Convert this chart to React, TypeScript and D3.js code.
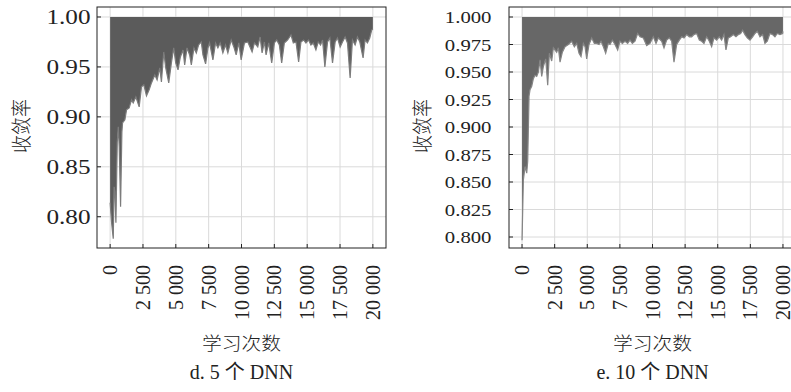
import React, { useEffect, useRef } from 'react';
import * as d3 from 'd3';

// x axis: learning iterations, shared by both panels
const xTicks = [0, 2500, 5000, 7500, 10000, 12500, 15000, 17500, 20000];
const xTitle = '学习次数';
const yTitle = '收敛率';

// d. 5 DNN  - lower edge of the dense curve (upper edge sits at 1.0)
const itersD = [0, 111, 237, 300, 364, 440, 541, 620, 693, 794, 895, 946, 1123, 1249, 1451, 1629, 1755, 1957, 2210, 2387,
  2564, 2766, 2969, 3146, 3399, 3576, 3778, 3904, 4081, 4233, 4461, 4663, 4840, 4992, 5168, 5346, 5548, 5674, 5851, 6054,
  6180, 6382, 6560, 6736, 6939, 7065, 7267, 7444, 7571, 7824, 8026, 8203, 8380, 8582, 8785, 8962, 9215, 9417, 9594, 9796,
  9973, 10226, 10479, 10808, 10985, 11238, 11415, 11567, 11744, 11870, 12073, 12300, 12503, 12680, 12882, 13059, 13262,
  13515, 13768, 13945, 14147, 14349, 14526, 14729, 14906, 15108, 15285, 15462, 15665, 15842, 16019, 16170, 16347, 16550,
  16727, 16929, 17131, 17308, 17511, 17688, 17890, 18067, 18270, 18447, 18649, 18826, 19003, 19256, 19408, 19585, 19762,
  19914, 20000];
const lowD = [0.814, 0.794, 0.778, 0.83, 0.825, 0.794, 0.874, 0.89, 0.87, 0.81, 0.885, 0.894, 0.897, 0.907, 0.909, 0.917,
  0.914, 0.92, 0.91, 0.93, 0.932, 0.921, 0.927, 0.934, 0.942, 0.937, 0.949, 0.935, 0.965, 0.949, 0.934, 0.954, 0.969, 0.954,
  0.947, 0.96, 0.967, 0.952, 0.969, 0.962, 0.952, 0.969, 0.964, 0.972, 0.975, 0.962, 0.953, 0.969, 0.974, 0.957, 0.974,
  0.969, 0.974, 0.964, 0.972, 0.964, 0.977, 0.97, 0.962, 0.974,
  0.957, 0.974, 0.975, 0.965, 0.974, 0.97, 0.98, 0.964, 0.975, 0.962, 0.974, 0.954, 0.974, 0.977, 0.972, 0.954, 0.974,
  0.977, 0.982, 0.974, 0.975, 0.955, 0.975, 0.977, 0.974, 0.977, 0.972, 0.974, 0.967, 0.975, 0.972, 0.977, 0.95, 0.975,
  0.979, 0.954, 0.975, 0.979, 0.97, 0.975, 0.98, 0.974, 0.939, 0.977, 0.972, 0.98, 0.975, 0.959, 0.977, 0.974, 0.979,
  0.987, 0.988];
const yTicksD = [0.8, 0.85, 0.9, 0.95, 1.0];
const captionD = 'd. 5 个 DNN';

// e. 10 DNN
const itersE = [0, 102, 230, 358, 434, 536, 613, 741, 868, 996, 1124, 1252, 1379, 1507, 1635, 1814, 1967, 2095, 2273, 2401,
  2656, 2784, 2912, 3091, 3295, 3551, 3806, 4010, 4189, 4368, 4521, 4700, 4828, 4955, 5134, 5338, 5543, 5721, 5900, 6053,
  6232, 6411, 6615, 6743, 6922, 7126, 7330, 7509, 7688, 7892, 8097, 8276, 8454, 8659, 8863, 9042, 9297, 9553, 9809, 10064,
  10269, 10448, 10703, 10882, 11086, 11290, 11469, 11648, 11852, 12057, 12235, 12414, 12619, 12823, 13002, 13180, 13385,
  13589, 13768, 13947, 14151, 14355, 14534, 14713, 14917, 15121, 15300, 15479, 15632, 15811, 15990, 16194, 16398, 16577,
  16756, 16909, 17088, 17266, 17471, 17675, 17854, 18033, 18237, 18442, 18620, 18799, 19003, 19208, 19386, 19565, 19770,
  19974, 20000];
const lowE = [0.797, 0.852, 0.864, 0.858, 0.869, 0.928, 0.934, 0.937, 0.944, 0.947, 0.946, 0.95, 0.961, 0.946, 0.955, 0.962,
  0.938, 0.967, 0.96, 0.972, 0.968, 0.972, 0.959, 0.968, 0.973, 0.975, 0.978, 0.973, 0.976, 0.967, 0.964, 0.976, 0.973,
  0.962, 0.975, 0.981, 0.976, 0.976, 0.975, 0.978, 0.973, 0.967, 0.976, 0.975, 0.979, 0.975, 0.97, 0.978, 0.976, 0.978,
  0.976, 0.979, 0.976, 0.978, 0.985, 0.982, 0.981, 0.974, 0.976, 0.982, 0.976, 0.981, 0.978, 0.972, 0.979, 0.981, 0.978,
  0.959, 0.975, 0.979, 0.982, 0.981, 0.984, 0.982, 0.982, 0.984, 0.985, 0.979, 0.978, 0.976, 0.982, 0.978, 0.973, 0.981,
  0.979, 0.982, 0.979, 0.984, 0.97, 0.981, 0.982, 0.984, 0.982, 0.984, 0.985, 0.988, 0.984, 0.981, 0.979, 0.982, 0.985,
  0.987, 0.982, 0.984, 0.976, 0.978, 0.985, 0.984, 0.982, 0.985, 0.984, 0.985, 0.987];
const yTicksE = [0.8, 0.825, 0.85, 0.875, 0.9, 0.925, 0.95, 0.975, 1.0];
const captionE = 'e. 10 个 DNN';

const serif = '"Liberation Serif", "Times New Roman", serif';
const cjk = '"Noto Sans CJK SC", sans-serif';
const ink = '#222';

export default function App() {
  const svgRef = useRef<SVGSVGElement>(null);

  useEffect(() => {
    const svg = d3.select(svgRef.current);
    svg.selectAll('*').remove();

    const top = 7, bottom = 248;
    const fmtX = (v: number) => d3.format(',')(v).replace(',', ' ');

    const panels = [
      { iters: itersD, low: lowD, left: 97, right: 386, yDomain: [0.7687, 1.01], yTicks: yTicksD, fmtY: d3.format('.2f'),
        tickSize: 21, labelEnd: 90.5, fill: '#5b5b5b', edge: '#7c7c7c', yTitleX: 22, caption: captionD },
      { iters: itersE, low: lowE, left: 509, right: 796, yDomain: [0.79, 1.0091], yTicks: yTicksE, fmtY: d3.format('.3f'),
        tickSize: 17.3, labelEnd: 491.5, fill: '#676767', edge: '#858585', yTitleX: 423, caption: captionE },
    ];

    const text = (g: any, s: string, x: number, y: number, size: number, family: string,
                  anchor: string, sx = 1, rot = false, weight = 400) =>
      g.append('text')
        .attr('transform', `translate(${x},${y}) scale(${sx},1)` + (rot ? ' rotate(-90)' : ''))
        .attr('text-anchor', anchor)
        .attr('dy', '0.35em')
        .attr('font-size', size)
        .attr('font-family', family)
        .attr('font-weight', weight)
        .attr('fill', ink)
        .text(s);

    panels.forEach((p, i) => {
      const x = d3.scaleLinear().domain([-1000, 21000]).range([p.left, p.right]);
      const y = d3.scaleLinear().domain(p.yDomain).range([bottom, top]);
      const g = svg.append('g');
      const clipId = `clip${i}`;
      g.append('clipPath').attr('id', clipId)
        .append('rect').attr('x', p.left).attr('y', top).attr('width', p.right - p.left).attr('height', bottom - top);

      // grid
      g.append('g').selectAll('line').data(xTicks).join('line')
        .attr('x1', d => x(d)).attr('x2', d => x(d)).attr('y1', top).attr('y2', bottom)
        .attr('stroke', '#dadada').attr('stroke-width', 1);
      g.append('g').selectAll('line').data(p.yTicks).join('line')
        .attr('x1', p.left).attr('x2', p.right).attr('y1', d => y(d)).attr('y2', d => y(d))
        .attr('stroke', '#dadada').attr('stroke-width', 1);

      // dense curve: band between its lower edge and 1.0
      const pts = p.iters.map((it, k) => ({ it, v: p.low[k] }));
      const area = d3.area<any>().x(d => x(d.it)).y0(y(1.0)).y1(d => y(d.v));
      const edge = d3.line<any>().x(d => x(d.it)).y(d => y(d.v));
      const plot = g.append('g').attr('clip-path', `url(#${clipId})`);
      plot.append('path').datum(pts).attr('d', area).attr('fill', p.fill);
      plot.append('path').datum(pts).attr('d', edge).attr('fill', 'none')
        .attr('stroke', p.edge).attr('stroke-width', 1.2);

      // frame + inward ticks
      g.append('rect').attr('x', p.left).attr('y', top).attr('width', p.right - p.left).attr('height', bottom - top)
        .attr('fill', 'none').attr('stroke', ink).attr('stroke-width', 1);
      g.append('g').selectAll('line').data(xTicks).join('line')
        .attr('x1', d => x(d)).attr('x2', d => x(d)).attr('y1', bottom).attr('y2', bottom - 4)
        .attr('stroke', ink);
      g.append('g').selectAll('line').data(p.yTicks).join('line')
        .attr('x1', p.left).attr('x2', p.left + 4).attr('y1', d => y(d)).attr('y2', d => y(d))
        .attr('stroke', ink);

      // tick labels
      p.yTicks.forEach(t => text(g, p.fmtY(t), p.labelEnd, y(t), p.tickSize, serif, 'end', 1.2));
      xTicks.forEach(t => text(g, fmtX(t), x(t), 265, 20, serif, 'end', 1, true));

      // titles
      const cx = (x(0) + x(20000)) / 2;
      text(g, yTitle, p.yTitleX, 126, 18, cjk, 'middle', 1.15, true, 300);
      text(g, xTitle, cx, 344, 18, cjk, 'middle', 1.1, false, 300);
      text(g, p.caption, cx, 372, 20, `${serif}, ${cjk}`, 'middle', 1, false, 400);
    });
  }, []);

  return (
    <svg ref={svgRef} width={791} height={392}
      style={{ position: 'absolute', left: 0, top: 0, background: '#fff' }} />
  );
}
